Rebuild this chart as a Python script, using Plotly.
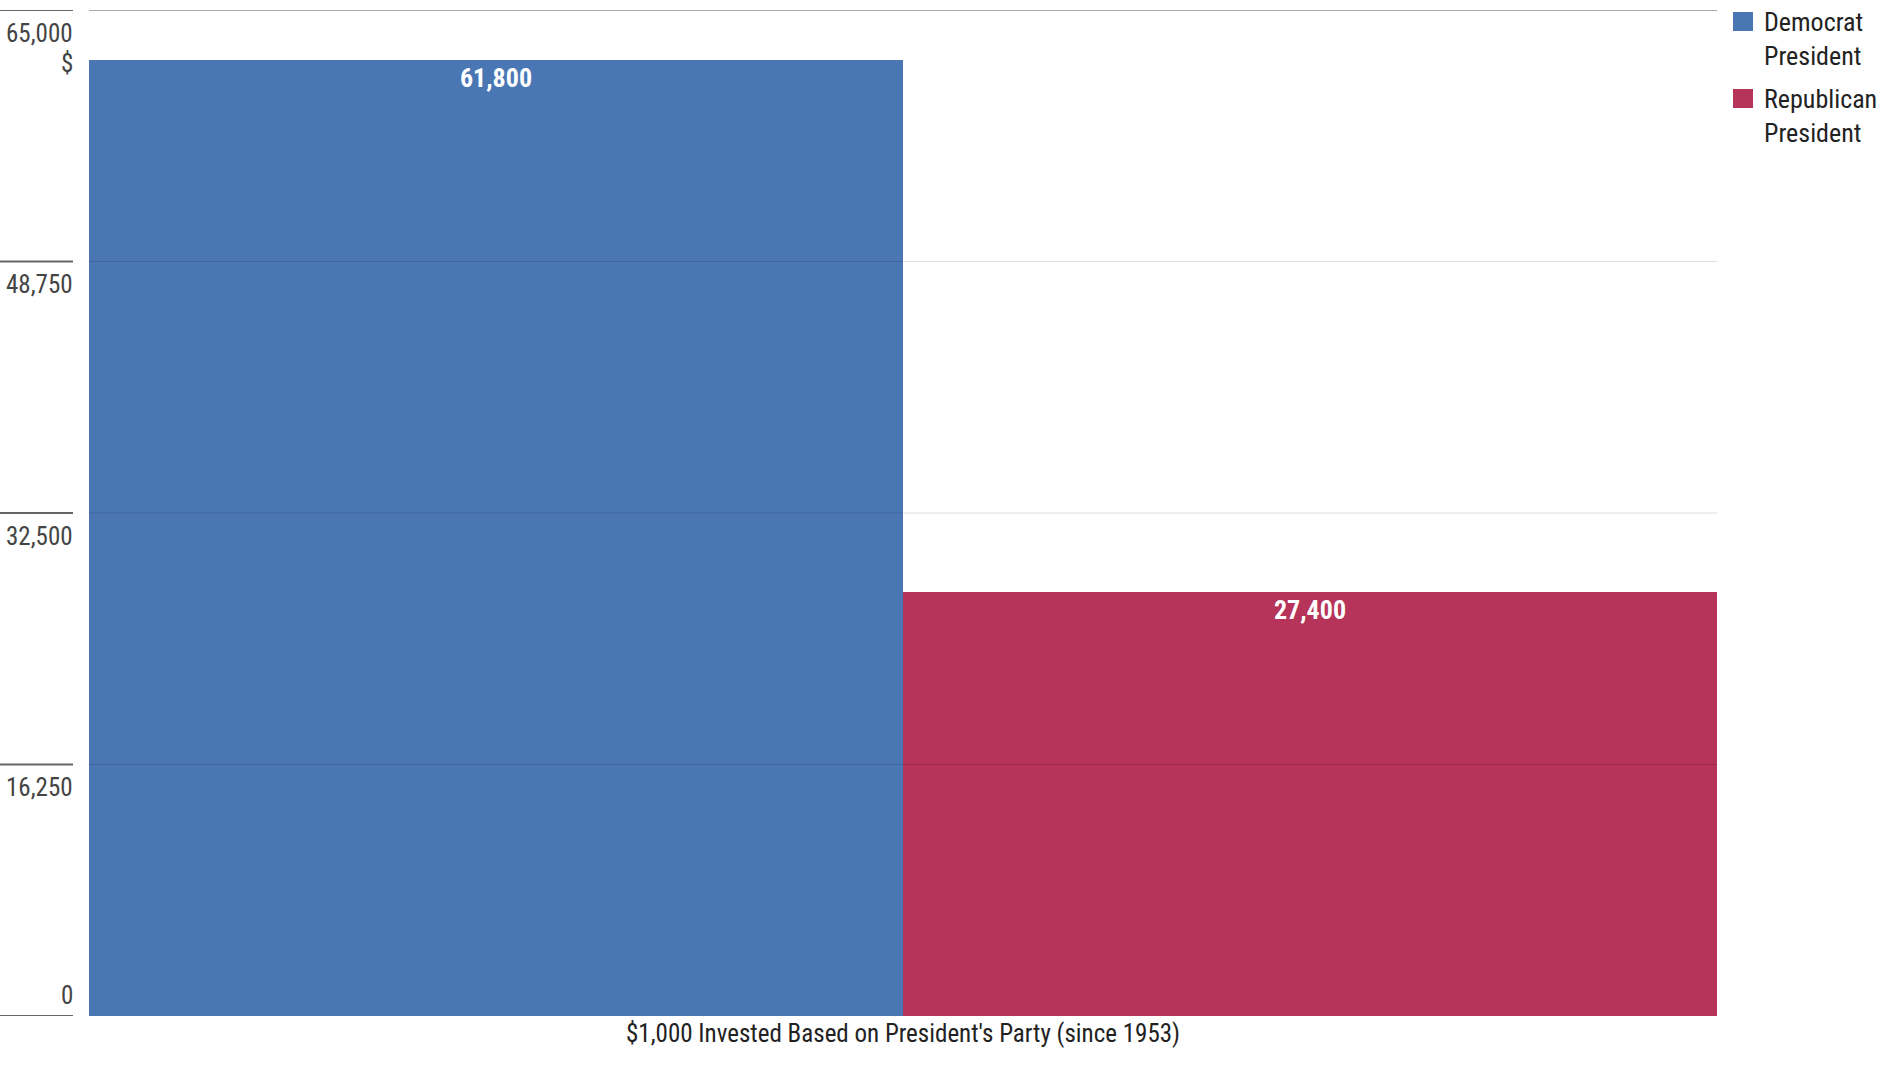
import plotly.graph_objects as go

# ---- data ----
category = ["$1,000 Invested Based on President's Party (since 1953)"]
series_names = ["Democrat President", "Republican President"]
legend_labels = ["Democrat<br>President", "Republican<br>President"]
series_values = [61800, 27400]
series_colors = ["#4a77b4", "#b6335a"]
tick_values = [0, 16250, 32500, 48750, 65000]
tick_labels = ["0", "16,250", "32,500", "48,750", "65,000"]
y_unit = "$"

FONT = "Liberation Sans Narrow, Roboto Condensed, DejaVu Sans Condensed, Arial Narrow, sans-serif"
W, H = 1896, 1066
L, R, T, B = 89, 1717, 10, 1016


def xp(px):
    return (px - L) / (R - L)


def yp(py):
    return (B - py) / (B - T)


fig = go.Figure()
for name, val, col in zip(series_names, series_values, series_colors):
    fig.add_trace(go.Bar(
        x=category, y=[val], name=name,
        marker=dict(color=col, line=dict(width=0)),
        text=[f"{val:,}"], textposition="inside", insidetextanchor="end",
        textangle=0, constraintext="none",
        textfont=dict(family=FONT, size=26, color="white", weight="bold"),
        showlegend=False, hoverinfo="skip",
    ))

shapes = []
annotations = []
# left tick lines and tick labels (labels sit below their line, except the baseline one)
for tv, tl in zip(tick_values, tick_labels):
    shapes.append(dict(type="line", xref="paper", yref="y",
                       x0=xp(0), x1=xp(73), y0=tv, y1=tv,
                       line=dict(color="#666666", width=2), layer="above"))
    annotations.append(dict(text=tl, xref="paper", yref="y", x=xp(73), y=tv,
                            xanchor="right", yanchor="middle", xshift=2,
                            yshift=(21 if tv == tick_values[0] else -23),
                            showarrow=False,
                            font=dict(family=FONT, size=25, color="#444444")))
# gridlines over bars
for tv in tick_values[1:-1]:
    shapes.append(dict(type="line", xref="paper", yref="y",
                       x0=0, x1=1, y0=tv, y1=tv,
                       line=dict(color="rgba(0,0,0,0.13)", width=1), layer="above"))
# top line and baseline
shapes.append(dict(type="line", xref="paper", yref="y", x0=0, x1=1,
                   y0=tick_values[-1], y1=tick_values[-1],
                   line=dict(color="#aaaaaa", width=2), layer="above"))
shapes.append(dict(type="line", xref="paper", yref="y", x0=0, x1=1,
                   y0=tick_values[0], y1=tick_values[0],
                   line=dict(color="#aaaaaa", width=2), layer="below"))

annotations.append(dict(text=y_unit, xref="paper", yref="y", x=xp(73), y=tick_values[-1],
                        xanchor="right", yanchor="middle", xshift=2, yshift=-53, showarrow=False,
                        font=dict(family=FONT, size=25, color="#444444")))

# manual legend
legend_tops = [12, 89]
for lab, col, top in zip(legend_labels, series_colors, legend_tops):
    shapes.append(dict(type="rect", xref="paper", yref="paper",
                       x0=xp(1733), x1=xp(1753), y0=yp(top), y1=yp(top + 19),
                       fillcolor=col, line=dict(width=0)))
    annotations.append(dict(text=lab, xref="paper", yref="paper", x=xp(1762), y=yp(top - 7),
                            xanchor="left", yanchor="top", align="left", showarrow=False,
                            font=dict(family=FONT, size=26, color="#222222")))

fig.update_layout(
    width=W, height=H,
    margin=dict(l=L, r=W - R, t=T, b=H - B, pad=0, autoexpand=False),
    paper_bgcolor="white", plot_bgcolor="white",
    barmode="group", bargap=0, bargroupgap=0,
    font=dict(family=FONT, size=26, color="#333333"),
    shapes=shapes, annotations=annotations,
    showlegend=False,
    xaxis=dict(showgrid=False, showline=False, zeroline=False, ticks="", automargin=False,
               tickfont=dict(family=FONT, size=25, color="#222222")),
    yaxis=dict(range=[0, 65000], showticklabels=False, automargin=False,
               showgrid=False, zeroline=False, showline=False, ticks=""),
)

fig.write_html("out.html")
